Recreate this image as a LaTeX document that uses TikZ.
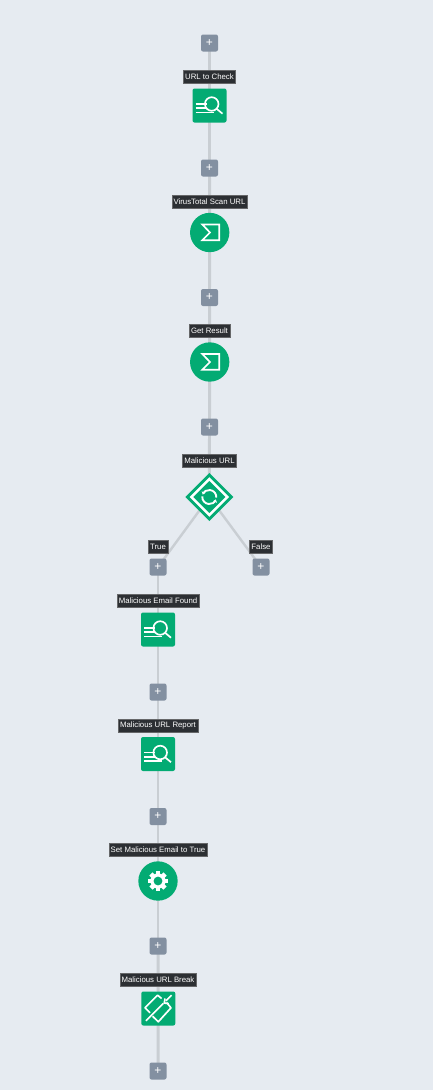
\documentclass[tikz,border=0pt]{standalone}
\usepackage{fontspec}
\setmainfont{Liberation Sans}
\usetikzlibrary{arrows.meta}
\definecolor{pagebg}{HTML}{E6EBF1}
\definecolor{wire}{HTML}{C9CED3}
\definecolor{okgreen}{HTML}{03AB73}
\definecolor{addgrey}{HTML}{8390A1}
\definecolor{tagdark}{HTML}{2C2F33}
\pgfdeclarelayer{backdrop}
\pgfdeclarelayer{wires}
\pgfsetlayers{backdrop,wires,main}
\tikzset{
  px/.style={x=0.75pt,y=-0.75pt},
  addbtn/.style={rectangle,rounded corners=1.5pt,fill=addgrey,text=white,minimum size=12.75pt,inner sep=0pt,font=\fontsize{9}{9}\selectfont},
  tag/.style={rectangle,fill=tagdark,draw=gray!70!tagdark,line width=0.3pt,text=white,inner xsep=1.4pt,inner ysep=0pt,minimum height=9.6pt,font=\fontsize{5.85}{7}\selectfont},
  squarebox/.style={rectangle,rounded corners=1.5pt,fill=okgreen,minimum size=25.5pt,inner sep=0pt},
  roundbox/.style={circle,fill=okgreen,minimum size=29.5pt,inner sep=0pt},
  conn/.style={draw=wire,line width=2.2pt},
  glyph/.style={draw=white,line width=1.25pt,fill=none},
  pics/searchicon/.style={code={
    \draw[glyph] (-13.8,-1.5) -- (-3,-1.5) (-13.8,2.8) -- (-3,2.8) (-13.8,7) -- (4,7);
    \draw[glyph] (2.2,-1.5) circle[radius=6.8];
    \draw[glyph] (7,3.2) -- (13,8.2);
  }},
  pics/sigmaicon/.style={code={
    \draw[glyph,line join=miter] (-7.4,-8) -- (9.6,-8) -- (9.6,7.7) -- (-7.4,7.7) -- (0.3,0) -- cycle;
  }},
  pics/gearicon/.style={code={
    \fill[white] (0,0) circle[radius=7.6];
    \foreach \a in {0,45,...,315}{\fill[white,rotate=\a] (-2.3,-10) rectangle (2.3,0);}
    \fill[okgreen] (0,0) circle[radius=4.4];
  }},
  pics/loopicon/.style={code={
    \draw[draw=white,line width=1.9pt,fill=none] (-18,0) -- (0,-18) -- (18,0) -- (0,18) -- cycle;
    \draw[draw=white,line width=1.4pt,-{Stealth[length=2.2pt,width=3.2pt]}] (-7,-0.6) arc[start angle=185,end angle=20,radius=7];
    \draw[draw=white,line width=1.4pt,-{Stealth[length=2.2pt,width=3.2pt]}] (7,0.6) arc[start angle=5,end angle=-160,radius=7];
  }},
  pics/breakicon/.style={code={
    \draw[glyph,line join=round] (3.3,-10) -- (-0.7,-13.3) -- (-13.3,-0.7) -- (-8.3,4.3);
    \draw[glyph,line join=round] (8.3,-6) -- (12.7,-0.7) -- (0,13.3) -- (-5.7,7.7);
    \draw[glyph] (-12.3,12.3) -- (5,-5);
    \draw[glyph] (7.7,-7.7) -- (13.3,-13.3);
    \draw[glyph,line join=miter] (6.7,-10) -- (6,-5.5) -- (10.5,-4.8);
  }}
}
\begin{document}
\begin{tikzpicture}[px]
\useasboundingbox (0,0) rectangle (433,1090);
\begin{pgfonlayer}{backdrop}
  \fill[pagebg] (0,0) rectangle (433,1090);
\end{pgfonlayer}
% add buttons
\node[addbtn] (a1) at (209.5,43) {+};
\node[addbtn] (a2) at (209.5,168) {+};
\node[addbtn] (a3) at (209.5,297.5) {+};
\node[addbtn] (a4) at (209.5,427) {+};
\node[addbtn] (a5) at (158,567) {+};
\node[addbtn] (a6) at (261,567) {+};
\node[addbtn] (a7) at (158,692) {+};
\node[addbtn] (a8) at (158,816.5) {+};
\node[addbtn] (a9) at (158,946) {+};
\node[addbtn] (a10) at (158,1071) {+};
% steps
\node[squarebox] (s1) at (209.5,105.5) {};
\node[roundbox] (s2) at (209.7,232.5) {};
\node[roundbox] (s3) at (209.7,362) {};
\node[rectangle,fill=okgreen,minimum size=25.5pt,inner sep=0pt,rotate=45] (s4) at (209.3,497) {};
\node[squarebox] (s5) at (158,629.5) {};
\node[squarebox] (s6) at (158,754) {};
\node[roundbox] (s7) at (158,881) {};
\node[squarebox] (s8) at (158.3,1008.5) {};
\pic at (s1) {searchicon};
\pic at (s2) {sigmaicon};
\pic at (s3) {sigmaicon};
\pic at (s4) {loopicon};
\pic at (s5) {searchicon};
\pic at (s6) {searchicon};
\pic at (s7) {gearicon};
\pic at (s8) {breakicon};
% tags
\node[tag] (t1) at (209.5,77) {URL to Check};
\node[tag] (t2) at (209.5,201.5) {VirusTotal Scan URL};
\node[tag] (t3) at (209.5,331) {Get Result};
\node[tag] (t4) at (209.5,461) {Malicious URL};
\node[tag] (t5) at (158,547) {True};
\node[tag] (t6) at (261,547) {False};
\node[tag] (t7) at (158,600.5) {Malicious Email Found};
\node[tag] (t8) at (158,725.5) {Malicious URL Report};
\node[tag] (t9) at (158,850) {Set Malicious Email to True};
\node[tag] (t10) at (158,980) {Malicious URL Break};
% connectors
\begin{pgfonlayer}{wires}
  \draw[conn] (a1.center) -- (s1.center);
  \draw[conn] (s1.center) -- (a2.center);
  \draw[conn] (a2.center) -- (s2.center);
  \draw[conn] (s2.center) -- (a3.center);
  \draw[conn] (a3.center) -- (s3.center);
  \draw[conn] (s3.center) -- (a4.center);
  \draw[conn] (a4.center) -- (s4.center);
  \draw[conn,line width=1.8pt] (s4.center) -- (a5.center);
  \draw[conn,line width=1.8pt] (s4.center) -- (a6.center);
  \draw[conn] (a5.center) -- (s5.center);
  \draw[conn] (s5.center) -- (a7.center);
  \draw[conn] (a7.center) -- (s6.center);
  \draw[conn] (s6.center) -- (a8.center);
  \draw[conn] (a8.center) -- (s7.center);
  \draw[conn] (s7.center) -- (a9.center);
  \draw[conn] (a9.center) -- (s8.center);
  \draw[conn] (s8.center) -- (a10.center);
\end{pgfonlayer}
\end{tikzpicture}
\end{document}
